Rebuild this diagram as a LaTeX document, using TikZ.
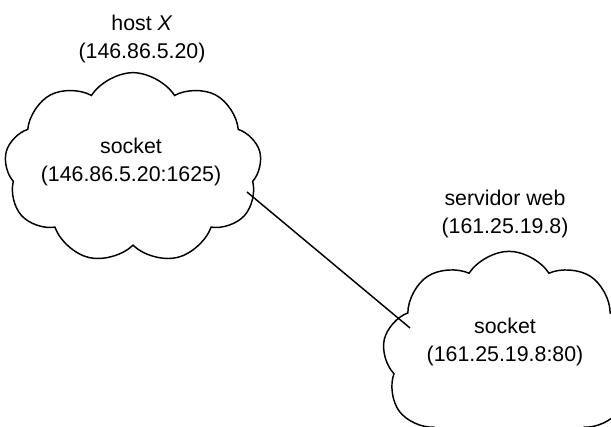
\documentclass[tikz,border=0pt]{standalone}
\usepackage{fontspec}
\setmainfont{Liberation Sans}
\usetikzlibrary{shapes.symbols}

\begin{document}
\begin{tikzpicture}[x=0.75pt,y=-0.75pt,
    nube/.style={cloud, draw, line width=1.1pt, cloud puffs=9, cloud puff arc=115, inner sep=0pt},
    rotulo/.style={font=\fontsize{16}{20.5}\selectfont, align=center}]
    \useasboundingbox (0,0) rectangle (611,427);
    \clip (0,0) rectangle (611,427);

    %clouds
    \node[nube, minimum width=193pt, minimum height=143pt] (hostnube) at (133,168) {};
    \node[nube, minimum width=190pt, minimum height=160pt] (webnube) at (509,358) {};

    %link
    \coordinate (hostend) at (247,192);
    \coordinate (webend) at (410,328);
    \draw[line width=1.1pt] (hostend) -- (webend);

    %labels
    \node[rotulo] (hostx) at (142,39) {host \textit{X}\\(146.86.5.20)};
    \node[rotulo] (hostsock) at (131,162) {socket\\(146.86.5.20:1625)};
    \node[rotulo] (web) at (505,214) {servidor web\\(161.25.19.8)};
    \node[rotulo] (websock) at (505,342) {socket\\(161.25.19.8:80)};

\end{tikzpicture}
\end{document}
